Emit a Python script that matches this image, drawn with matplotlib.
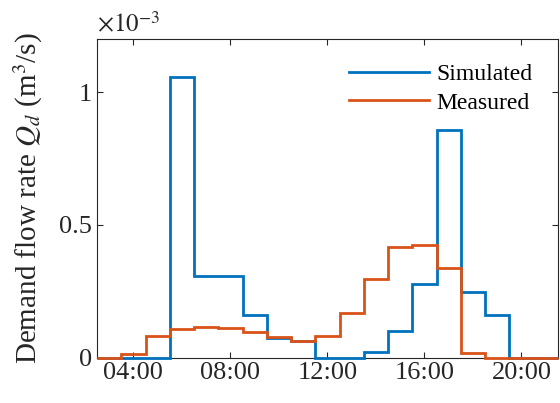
import numpy as np
import matplotlib
matplotlib.use("Agg")
import matplotlib.pyplot as plt

# hourly bins (hour centers 3..21), values in 1e-3 m^3/s
hours = np.arange(3, 22)
simulated = [0, 0, 0, 1.056, 0.309, 0.306, 0.162, 0.072, 0.062, 0, 0,
             0.021, 0.101, 0.279, 0.857, 0.247, 0.160, 0, 0]
measured = [0, 0.013, 0.081, 0.108, 0.116, 0.110, 0.097, 0.076, 0.063, 0.082, 0.168,
            0.297, 0.415, 0.425, 0.336, 0.017, 0, 0, 0]
xticks = [4, 8, 12, 16, 20]
xlabels = ["04:00", "08:00", "12:00", "16:00", "20:00"]

plt.rcParams['font.family'] = 'Liberation Serif'
plt.rcParams['mathtext.fontset'] = 'stix'

fig = plt.figure(figsize=(5.6, 4.03), dpi=100)
ax = fig.add_axes([0.1732, 0.1127, 0.823, 0.7906])

edges = np.append(hours - 0.5, hours[-1] + 0.5)
ax.stairs(simulated, edges, color='#0072BD', linewidth=2, label='Simulated',
          zorder=3, clip_on=False)
ax.stairs(measured, edges, color='#D95319', linewidth=2, label='Measured',
          zorder=3, clip_on=False)

ax.set_xlim(2.5, 21.5)
ax.set_ylim(0, 1.2)
ax.set_xticks(xticks)
ax.set_xticklabels(xlabels)
ax.set_yticks([0, 0.5, 1])
ax.set_yticklabels(["0", "0.5", "1"])
ax.tick_params(direction='in', top=True, right=True, labelsize=19, colors='#262626',
               length=4, width=0.8)
for s in ax.spines.values():
    s.set_color('#262626')
    s.set_linewidth(0.8)

ax.set_ylabel(r'Demand flow rate $Q_d$ (m$^3$/s)', fontsize=21, color='#262626', labelpad=10)
ax.text(0.0, 1.005, r'$\times10^{-3}$', transform=ax.transAxes, fontsize=18,
        color='#262626', va='bottom', ha='left')

ax.legend(loc='upper right', frameon=False, fontsize=17, handlelength=3.4,
          handletextpad=0.3, borderaxespad=0.5, labelspacing=0.3,
          bbox_to_anchor=(0.99, 0.99))

fig.savefig('out.png', dpi=100)
